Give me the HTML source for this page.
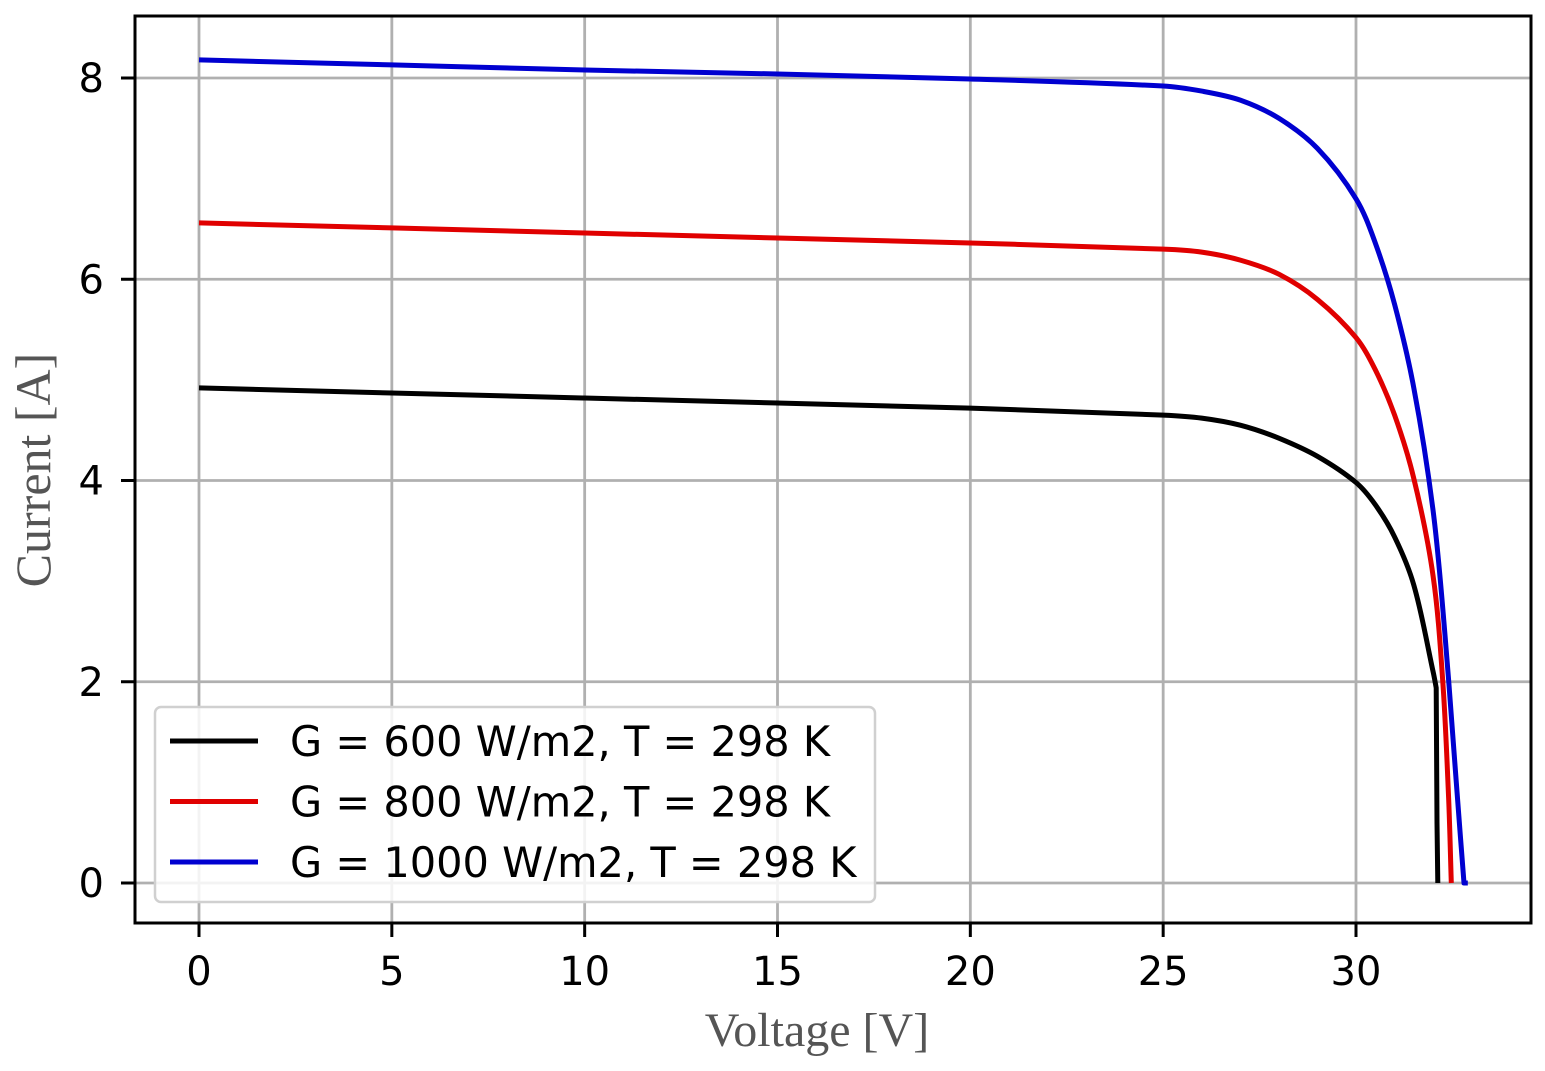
<!DOCTYPE html>
<html><head><meta charset="utf-8"><style>
html,body{margin:0;padding:0;background:#fff;}
svg{display:block;}
</style></head><body>
<svg id="chart" width="1545" height="1071" xmlns="http://www.w3.org/2000/svg">
<g id="grid"></g>
<g id="series"></g>
<rect x="135" y="16" width="1396" height="907" fill="none" stroke="#000" stroke-width="3"/>
<g id="ticks"></g>
<text x="817" y="1046" text-anchor="middle" font-family="Liberation Serif, serif" font-size="48" fill="#555">Voltage [V]</text>
<text transform="translate(50,470) rotate(-90)" text-anchor="middle" font-family="Liberation Serif, serif" font-size="50" fill="#555">Current [A]</text>
<g id="legend"></g>
</svg>
<script>
const xTicks=[0,5,10,15,20,25,30];
const yTicks=[0,2,4,6,8];
const seriesLabels=["G = 600 W/m2, T = 298 K","G = 800 W/m2, T = 298 K","G = 1000 W/m2, T = 298 K"];
const seriesColors=["#000000","#e00000","#0000d0"];
const vBlack=[0,5,10,15,20,25,26,27,28,29,30,30.5,31,31.5,32.0,32.08,32.1,32.12];
const iBlack=[4.92,4.87,4.82,4.77,4.72,4.65,4.62,4.55,4.42,4.24,3.98,3.76,3.44,2.96,2.10,1.94,0.6,0];
const vRed=[0,5,10,15,20,25,26,27,28,29,30,30.5,31,31.5,32.0,32.25,32.4,32.47];
const iRed=[6.56,6.51,6.46,6.41,6.36,6.30,6.27,6.19,6.05,5.80,5.42,5.10,4.65,4.02,3.05,2.00,0.85,0];
const vBlue=[0,5,10,15,20,25,26,27,28,29,30,30.5,31,31.5,32.0,32.3,32.6,32.8,32.9];
const iBlue=[8.18,8.13,8.08,8.04,7.99,7.92,7.87,7.78,7.60,7.30,6.80,6.36,5.75,4.92,3.70,2.50,1.00,0,0];
const vs=[vBlack,vRed,vBlue], is=[iBlack,iRed,iBlue];
const NS="http://www.w3.org/2000/svg";
const X=v=>199+v*(1356-199)/30;
const Y=i=>883-i*(883-78)/8;
function mk(t,a,p){const e=document.createElementNS(NS,t);for(const k in a)e.setAttribute(k,a[k]);p.appendChild(e);return e;}
const grid=document.getElementById('grid'),ticks=document.getElementById('ticks');
xTicks.forEach(v=>{
 const g=mk('line',{x1:X(v),x2:X(v),y1:16,y2:923,stroke:'#b0b0b0','stroke-width':2.8},grid);
 
 
 const t=mk('line',{x1:X(v),x2:X(v),y1:923,y2:937,stroke:'#000','stroke-width':3},ticks);
 
 
 const l=mk('text',{x:X(v),y:985,'text-anchor':'middle','font-family':'DejaVu Sans, sans-serif','font-size':40,fill:'#000'},ticks);
 l.textContent=v;
 
 
});
yTicks.forEach(i=>{
 const g=mk('line',{x1:135,x2:1531,y1:Y(i),y2:Y(i),stroke:'#b0b0b0','stroke-width':2.8},grid);
 
 
 const t=mk('line',{x1:121,x2:135,y1:Y(i),y2:Y(i),stroke:'#000','stroke-width':3},ticks);
 
 
 const l=mk('text',{x:104,y:Y(i)+14,'text-anchor':'end','font-family':'DejaVu Sans, sans-serif','font-size':40,fill:'#000'},ticks);
 l.textContent=i;
 
 
});
function smooth(pts){
 let d='M'+pts[0][0].toFixed(1)+','+pts[0][1].toFixed(1);
 const dist=(a,b)=>Math.hypot(a[0]-b[0],a[1]-b[1]);
 const tan=j=>{
  const a=pts[Math.max(j-1,0)],b=pts[Math.min(j+1,pts.length-1)];
  const L=dist(a,b)||1;return [(b[0]-a[0])/L,(b[1]-a[1])/L];
 };
 for(let j=0;j<pts.length-1;j++){
  const p1=pts[j],p2=pts[j+1],s=dist(p1,p2)/3,t1=tan(j),t2=tan(j+1);
  const c1=[p1[0]+t1[0]*s,p1[1]+t1[1]*s],c2=[p2[0]-t2[0]*s,p2[1]-t2[1]*s];
  d+=' C'+c1[0].toFixed(1)+','+c1[1].toFixed(1)+' '+c2[0].toFixed(1)+','+c2[1].toFixed(1)+' '+p2[0].toFixed(1)+','+p2[1].toFixed(1);
 }
 return d;
}
function lin(pts){return pts.map(p=>' L'+p[0].toFixed(1)+','+p[1].toFixed(1)).join('');}
const ser=document.getElementById('series');
vs.forEach((vv,k)=>{
 const pts=vv.map((v,j)=>[X(v),Y(is[k][j])]);
 let d;
 if(k===0) d=smooth(pts.slice(0,16))+lin(pts.slice(16));
 else if(k===2) d=smooth(pts.slice(0,pts.length-1))+lin(pts.slice(pts.length-1));
 else d=smooth(pts);
 const p=mk('path',{d:d,fill:'none',stroke:seriesColors[k],'stroke-width':5,'stroke-linejoin':'round'},ser);
 
 
});
const lg=document.getElementById('legend');
const box=mk('rect',{x:155,y:707,width:720,height:195,rx:6,fill:'#fff','fill-opacity':0.85,stroke:'#d0d0d0','stroke-width':2.5},lg);


seriesLabels.forEach((s,k)=>{
 const y=741+k*60.5;
 const ln=mk('line',{x1:170,x2:258,y1:y,y2:y,stroke:seriesColors[k],'stroke-width':5},lg);
 
 
 const t=mk('text',{x:290,y:y+15,'font-family':'DejaVu Sans, sans-serif','font-size':41.5,fill:'#000'},lg);
 t.textContent=s;
 
 
});
</script>
</body></html>
